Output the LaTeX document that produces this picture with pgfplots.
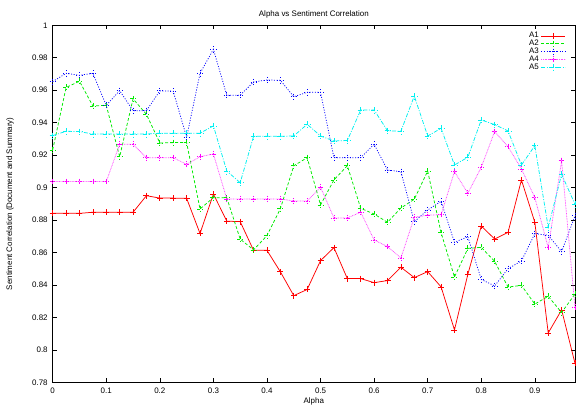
\documentclass[border=0pt]{standalone}
\usepackage{pgfplots}
\pgfplotsset{compat=1.18}
\usepackage{fontspec}
\setmainfont{Liberation Sans}

\definecolor{gpred}{RGB}{255,0,0}
\definecolor{gpgreen}{RGB}{0,235,0}
\definecolor{gpblue}{RGB}{0,0,255}
\definecolor{gpmagenta}{RGB}{255,0,255}
\definecolor{gpcyan}{RGB}{0,240,240}

\begin{document}
\begin{tikzpicture}
\begin{axis}[
  scale only axis,
  width=522.3bp, height=357bp,
  xmin=0, xmax=0.975,
  ymin=0.78, ymax=1,
  xtick={0,0.1,0.2,0.3,0.4,0.5,0.6,0.7,0.8,0.9},
  ytick={0.78,0.8,0.82,0.84,0.86,0.88,0.9,0.92,0.94,0.96,0.98,1},
  scaled ticks=false,
  tick align=inside,
  major tick length=4bp,
  tick style={black, line width=0.6pt},
  axis line style={black, line width=0.9pt},
  font=\fontsize{8}{9.6}\selectfont,
  /pgf/number format/assume math mode=true,
  xticklabel style={yshift=-2bp},
  yticklabel style={xshift=-1.5bp},
  title={Alpha vs Sentiment Correlation},
  xlabel={Alpha},
  ylabel={Sentiment Correlation (Document and Summary)},
  every axis title/.style={at={(axis description cs:0.5,1)}, yshift=11bp, anchor=center},
  every axis x label/.style={at={(axis description cs:0.5,0)}, yshift=-19.5bp, anchor=center},
  every axis y label/.style={at={(axis description cs:0,0.5)}, xshift=-42.7bp, rotate=90, anchor=center},
  every axis plot/.append style={line width=0.75bp},
  every mark/.append style={solid, line width=0.7bp},
  mark size=3bp,
  legend style={draw=none, fill=none, at={(1,1)}, anchor=north east,
    xshift=-9bp, yshift=-5bp, font=\fontsize{8}{8}\selectfont,
    row sep=-3.2bp, inner sep=0pt},
  legend cell align=right,
  legend plot pos=right,
  legend image code/.code={
    \draw[line width=0.9bp, mark repeat=2, mark phase=2, #1]
      plot coordinates {(0bp,0bp) (12bp,0bp) (24bp,0bp)};
  },
]
\addplot[color=gpred, solid, mark=+] coordinates {
(0,0.8842) (0.025,0.8841) (0.05,0.8841) (0.075,0.8848) (0.1,0.8848)
(0.125,0.8848) (0.15,0.8848) (0.175,0.8950) (0.2,0.8935) (0.225,0.8935)
(0.25,0.8934) (0.275,0.8717) (0.3,0.8960) (0.325,0.8793) (0.35,0.8790)
(0.375,0.8613) (0.4,0.8613) (0.425,0.8481) (0.45,0.8334) (0.475,0.8372)
(0.5,0.8550) (0.525,0.8630) (0.55,0.8439) (0.575,0.8439) (0.6,0.8414)
(0.625,0.8427) (0.65,0.8509) (0.675,0.8445) (0.7,0.8482) (0.725,0.8388)
(0.75,0.8123) (0.775,0.8466) (0.8,0.8763) (0.825,0.8683) (0.85,0.8724)
(0.875,0.9047) (0.9,0.8786) (0.925,0.8104) (0.95,0.8246) (0.975,0.7917)
};
\addlegendentry{A1}
\addplot[color=gpgreen, dash pattern=on 3bp off 2bp, mark=+] coordinates {
(0,0.9232) (0.025,0.9617) (0.05,0.9655) (0.075,0.9503) (0.1,0.9507)
(0.125,0.9190) (0.15,0.9547) (0.175,0.9451) (0.2,0.9275) (0.225,0.9277)
(0.25,0.9277) (0.275,0.8868) (0.3,0.8938) (0.325,0.8937) (0.35,0.8682)
(0.375,0.8616) (0.4,0.8704) (0.425,0.8870) (0.45,0.9134) (0.475,0.9184)
(0.5,0.8893) (0.525,0.9047) (0.55,0.9135) (0.575,0.8872) (0.6,0.8837)
(0.625,0.8786) (0.65,0.8874) (0.675,0.8928) (0.7,0.9102) (0.725,0.8722)
(0.75,0.8449) (0.775,0.8625) (0.8,0.8632) (0.825,0.8545) (0.85,0.8387)
(0.875,0.8397) (0.9,0.8282) (0.925,0.8330) (0.95,0.8230) (0.975,0.8344)
};
\addlegendentry{A2}
\addplot[color=gpblue, dash pattern=on 1bp off 1.6bp, mark=+] coordinates {
(0,0.9653) (0.025,0.9704) (0.05,0.9692) (0.075,0.9704) (0.1,0.9507)
(0.125,0.9597) (0.15,0.9474) (0.175,0.9474) (0.2,0.9596) (0.225,0.9594)
(0.25,0.9310) (0.275,0.9704) (0.3,0.9852) (0.325,0.9569) (0.35,0.9569)
(0.375,0.9651) (0.4,0.9663) (0.425,0.9661) (0.45,0.9560) (0.475,0.9587)
(0.5,0.9587) (0.525,0.9184) (0.55,0.9184) (0.575,0.9184) (0.6,0.9267)
(0.625,0.9108) (0.65,0.9098) (0.675,0.8790) (0.7,0.8862) (0.725,0.8915)
(0.75,0.8663) (0.775,0.8697) (0.8,0.8434) (0.825,0.8394) (0.85,0.8500)
(0.875,0.8548) (0.9,0.8716) (0.925,0.8706) (0.95,0.8605) (0.975,0.8826)
};
\addlegendentry{A3}
\addplot[color=gpmagenta!70, dash pattern=on 0.8bp off 0.8bp, mark=+,
  mark options={color=gpmagenta}] coordinates {
(0,0.9037) (0.025,0.9037) (0.05,0.9037) (0.075,0.9037) (0.1,0.9037)
(0.125,0.9267) (0.15,0.9267) (0.175,0.9184) (0.2,0.9184) (0.225,0.9184)
(0.25,0.9143) (0.275,0.9190) (0.3,0.9207) (0.325,0.8930) (0.35,0.8930)
(0.375,0.8930) (0.4,0.8930) (0.425,0.8930) (0.45,0.8917) (0.475,0.8917)
(0.5,0.9002) (0.525,0.8813) (0.55,0.8813) (0.575,0.8848) (0.6,0.8677)
(0.625,0.8636) (0.65,0.8566) (0.675,0.8817) (0.7,0.8830) (0.725,0.8833)
(0.75,0.9098) (0.775,0.8965) (0.8,0.9125) (0.825,0.9345) (0.85,0.9252)
(0.875,0.9115) (0.9,0.8938) (0.925,0.8630) (0.95,0.9166) (0.975,0.8262)
};
\addlegendentry{A4}
\addplot[color=gpcyan, dash pattern=on 4bp off 1.5bp on 1bp off 1.5bp, mark=+] coordinates {
(0,0.9320) (0.025,0.9347) (0.05,0.9345) (0.075,0.9330) (0.1,0.9330)
(0.125,0.9330) (0.15,0.9330) (0.175,0.9330) (0.2,0.9335) (0.225,0.9335)
(0.25,0.9335) (0.275,0.9335) (0.3,0.9380) (0.325,0.9102) (0.35,0.9030)
(0.375,0.9316) (0.4,0.9316) (0.425,0.9316) (0.45,0.9318) (0.475,0.9390)
(0.5,0.9318) (0.525,0.9287) (0.55,0.9290) (0.575,0.9478) (0.6,0.9478)
(0.625,0.9350) (0.65,0.9347) (0.675,0.9564) (0.7,0.9318) (0.725,0.9365)
(0.75,0.9139) (0.775,0.9187) (0.8,0.9417) (0.825,0.9388) (0.85,0.9349)
(0.875,0.9139) (0.9,0.9258) (0.925,0.8755) (0.95,0.9082) (0.975,0.8897)
};
\addlegendentry{A5}
\end{axis}
\pgfresetboundingbox
\useasboundingbox (-52.7bp,-23.7bp) rectangle (523.3bp,382.3bp);
\end{tikzpicture}
\end{document}
